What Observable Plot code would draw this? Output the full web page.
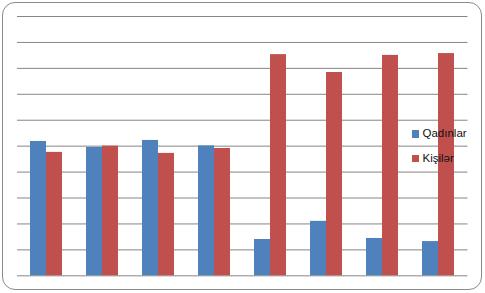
<!DOCTYPE html>
<html>
<head>
<meta charset="utf-8">
<script src="https://cdn.jsdelivr.net/npm/d3@7"></script>
<script src="https://cdn.jsdelivr.net/npm/@observablehq/plot@0.6"></script>
<style>
  html, body { margin: 0; padding: 0; background: #fff; }
  #wrap { position: relative; width: 485px; height: 293px; overflow: hidden; }
  #border { position: absolute; left: 2px; top: 2px; width: 478px; height: 286px;
            border: 1.3px solid #8a8a8a; border-radius: 13px; pointer-events: none; }
  #chart { position: absolute; left: 0; top: 0; }
  #legend { position: absolute; left: 412px; top: 126px; font-family: "Liberation Sans", Arial, sans-serif;
            font-size: 11.5px; color: #111; }
  .item { position: relative; height: 24.5px; white-space: nowrap; }
  .sw { position: absolute; left: 0; top: 4px; width: 6.5px; height: 7.5px; }
  .lab { position: absolute; left: 10.5px; top: 0px; line-height: 14px; }
</style>
</head>
<body>
<div id="wrap">
  <div id="chart"></div>
  <div id="border"></div>
  <div id="legend"></div>
</div>
<script>
const groups = ["1", "2", "3", "4", "5", "6", "7", "8"];
const series = ["Qadınlar", "Kişilər"];
const women = [51.8, 49.5, 52.2, 50.1, 14.0, 21.0, 14.4, 13.2];
const men = [47.6, 50.0, 47.2, 49.1, 85.3, 78.4, 85.0, 85.7];
const gridTicks = [0, 10, 20, 30, 40, 50, 60, 70, 80, 90, 100];
const colors = ["#4F81BD", "#C0504D"];

const womenData = groups.map((g, i) => ({group: g, series: series[0], value: women[i]}));
const menData = groups.map((g, i) => ({group: g, series: series[1], value: men[i]}));

const chart = Plot.plot({
  width: 485,
  height: 293,
  marginTop: 16,
  marginBottom: 17.7,
  marginLeft: 17,
  marginRight: 17.5,
  style: {background: "transparent"},
  x: {domain: groups, paddingInner: 0.717, paddingOuter: 0.3585, axis: null},
  y: {domain: [0, 100], axis: null},
  marks: [
    Plot.ruleY(gridTicks, {stroke: "#868686", strokeOpacity: 1, strokeWidth: 1}),
    Plot.barY(womenData, {x: "group", y: "value", fill: colors[0], dx: -8}),
    Plot.barY(menData, {x: "group", y: "value", fill: colors[1], dx: 8})
  ]
});
document.getElementById("chart").appendChild(chart);

const legend = document.getElementById("legend");
series.forEach((s, i) => {
  const item = document.createElement("div");
  item.className = "item";
  const sw = document.createElement("div");
  sw.className = "sw";
  sw.style.background = colors[i];
  const lab = document.createElement("div");
  lab.className = "lab";
  lab.textContent = s;
  item.appendChild(sw);
  item.appendChild(lab);
  legend.appendChild(item);
});
</script>
</body>
</html>
